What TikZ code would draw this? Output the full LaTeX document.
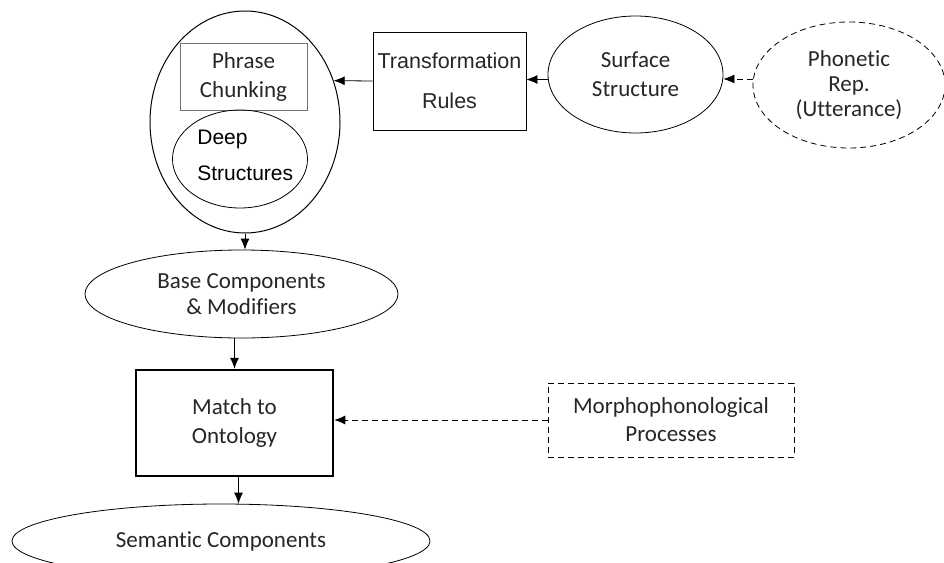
\documentclass[tikz,border=0pt]{standalone}
\usepackage{fontspec}
\setmainfont{Carlito}[Ligatures=NoCommon]
\newfontfamily\arialfont{Liberation Sans}
\usetikzlibrary{arrows,arrows.meta,shapes.geometric,calc}

\begin{document}
\begin{tikzpicture}[x=1pt, y=-1pt, line width=0.8pt,
  testo/.style={font=\fontsize{23}{29}\selectfont, align=center, text=black!85},
  ovale/.style={draw, ellipse, inner sep=0pt, testo},
  scatola/.style={draw, rectangle, inner sep=0pt, testo},
  tratteggio/.style={dash pattern=on 6pt off 4pt},
  freccia/.style={-{Latex[length=11pt, width=9pt]}}]
\useasboundingbox (0,0) rectangle (944,562);

% Blocco struttura profonda
\node[ovale, line width=1pt, minimum width=190pt, minimum height=222pt] (deepblk) at (245,122) {};
\node[scatola, draw=black!55, minimum width=127pt, minimum height=67pt] (phrase) at (243.5,76.5) {Phrase\\Chunking};
\node[ovale, minimum width=135pt, minimum height=98pt] (deep) at (240,159) {};
\node[testo, inner sep=0pt, anchor=west, align=left, text=black,
  font=\arialfont\fontsize{21}{36}\selectfont] (deeplbl) at (197,155) {Deep\\Structures};

% Catena superiore
\node[scatola, minimum width=153pt, minimum height=98pt,
  font=\arialfont\fontsize{21.5}{40}\selectfont] (trans) at (449.5,81) {Transformation\\Rules};
\node[ovale, minimum width=175pt, minimum height=117pt] (surf) at (635.5,74.5) {Surface\\Structure};
\node[ovale, tratteggio, minimum width=192pt, minimum height=126pt,
  font=\fontsize{23}{25}\selectfont] (phon) at (849,85) {Phonetic\\Rep.\\(Utterance)};

% Catena inferiore
\node[ovale, minimum width=313pt, minimum height=88pt,
  font=\fontsize{23}{26}\selectfont] (base) at (241.5,294) {Base Components\\\& Modifiers};
\node[scatola, line width=2.5pt, minimum width=197pt, minimum height=106pt] (match) at (234.5,423) {Match to\\Ontology};
\node[scatola, tratteggio, minimum width=246pt, minimum height=74pt,
  font=\fontsize{23}{28}\selectfont] (morpho) at (671,420) {Morphophonological\\Processes};
\node[ovale, minimum width=418pt, minimum height=74pt] (sem) at (221,541) {Semantic Components};

% Frecce
\draw[freccia, tratteggio] ([yshift=6pt]phon.west) -- ([yshift=6pt]phon.west -| surf.east);
\draw[freccia] ([yshift=-5pt]surf.west) -- ([yshift=-5pt]surf.west -| trans.east);
\draw[freccia] (trans.west) -- (deepblk.25);
\draw[freccia] (deepblk.south) -- (deepblk.south |- base.north);
\draw[freccia] (match.north |- base.south) -- (match.north);
\draw[freccia, tratteggio] (morpho.west) -- (morpho.west -| match.east);
\draw[freccia] ([xshift=4pt]match.south) -- ([xshift=4pt]match.south |- sem.north);

\end{tikzpicture}
\end{document}
